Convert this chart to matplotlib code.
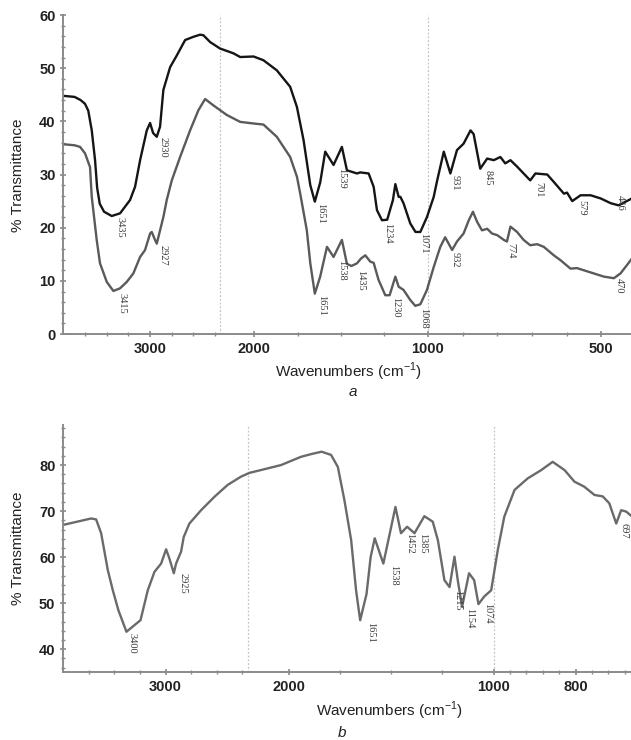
import numpy as np
import matplotlib
matplotlib.use("Agg")
import matplotlib.pyplot as plt
from matplotlib.ticker import FixedLocator, MultipleLocator

plt.rcParams["mathtext.fontset"] = "custom"
plt.rcParams["mathtext.rm"] = "Liberation Sans"

# ---- panel a: two spectra ----
wn_a_top = [4000, 3870, 3800, 3750, 3712, 3672, 3634, 3610, 3580, 3530, 3442, 3346,
            3231, 3173, 3115, 3038, 3000, 2965, 2923, 2885, 2847, 2769, 2692, 2596,
            2501, 2424, 2386, 2307, 2197, 2120, 2081, 2004, 1947, 1870, 1793, 1754,
            1716, 1677, 1651, 1620, 1591, 1543, 1495, 1466, 1408, 1389, 1341, 1312,
            1293, 1264, 1234, 1201, 1187, 1168, 1158, 1140, 1101, 1071, 1043, 1005,
            983, 973, 954, 935, 916, 897, 877, 868, 849, 829, 810, 791, 777, 762,
            743, 705, 690, 656, 637, 608, 599, 584, 560, 531, 502, 473, 450, 430, 412]
t_a_top = [44.8, 44.6, 44.0, 43.3, 42.0, 38.3, 32.7, 27.5, 24.5, 23.0, 22.2, 22.7,
           25.2, 27.7, 32.7, 38.3, 39.7, 37.8, 37.1, 39.0, 45.9, 50.2, 52.4, 55.3,
           55.9, 56.3, 56.2, 54.9, 53.7, 52.8, 52.1, 52.2, 51.5, 49.6, 46.5, 42.7,
           36.5, 28.0, 24.9, 28.5, 34.3, 31.8, 35.2, 30.8, 30.2, 30.4, 30.2, 27.7,
           23.3, 21.4, 21.5, 25.2, 28.2, 25.8, 25.8, 24.6, 20.8, 19.2, 19.2, 22.0,
           25.8, 28.9, 34.3, 30.2, 34.6, 35.8, 38.3, 37.6, 31.1, 33.0, 32.7, 33.3, 32.1, 32.7,
           31.5, 28.9, 30.2, 30.0, 28.6, 26.4, 26.6, 25.0, 26.1, 26.1, 25.5, 24.6, 24.2, 24.9, 25.5]

wn_a_low = [4000, 3870, 3807, 3750, 3692, 3672, 3615, 3577, 3499, 3423, 3346, 3269,
            3193, 3115, 3058, 3000, 2981, 2943, 2923, 2847, 2808, 2750, 2654, 2539,
            2443, 2366, 2270, 2158, 2081, 2004, 1947, 1870, 1793, 1754, 1735, 1697,
            1677, 1651, 1620, 1581, 1543, 1495, 1466, 1440, 1408, 1385, 1360, 1331,
            1312, 1284, 1245, 1220, 1187, 1168, 1140, 1101, 1072, 1043, 1005, 983,
            964, 950, 930, 916, 897, 882, 870, 858, 844, 829, 815, 800, 781, 772,
            762, 743, 724, 705, 685, 666, 637, 618, 589, 570, 551, 522, 493, 464,
            445, 426, 412]
t_a_low = [35.7, 35.5, 35.2, 34.0, 31.4, 25.8, 17.7, 13.3, 9.8, 8.1, 8.6, 9.8,
           11.4, 14.5, 15.8, 18.9, 19.2, 17.7, 17.0, 22.0, 25.2, 28.9, 33.3, 38.3,
           42.1, 44.2, 43.0, 41.2, 39.9, 39.6, 39.4, 37.1, 33.3, 29.6, 26.4, 19.5,
           13.3, 7.6, 10.8, 16.4, 14.5, 17.7, 13.2, 12.8, 13.3, 14.2, 14.8, 13.6,
           13.4, 10.2, 7.3, 7.3, 10.8, 8.9, 8.3, 6.4, 5.3, 5.6, 8.3, 12.6,
           16.4, 18.2, 15.8, 17.4, 18.9, 21.4, 23.0, 21.1, 19.5, 19.8, 18.9, 18.6, 17.7, 17.4,
           20.2, 19.2, 17.7, 16.7, 16.9, 16.4, 14.8, 13.9, 12.3, 12.4, 12.0, 11.4, 10.8, 10.5,
           11.4, 13.0, 14.2]

# peak labels panel a: text, x (cm-1), top of text (%T)
pk_a_text = ["3435", "2930", "1651", "1539", "1234", "1071", "931", "845", "701", "579", "446",
             "3415", "2927", "1651", "1538", "1435", "1230", "1068", "932", "774", "470"]
pk_a_x = [3346, 2850, 1620, 1495, 1233, 1026, 921, 826, 681, 555, 445,
          3323, 2850, 1610, 1495, 1389, 1187, 1026, 921, 762, 450]
pk_a_y = [22.0, 37.0, 24.6, 31.2, 20.9, 19.0, 29.9, 30.8, 28.6, 25.2, 26.1,
          7.7, 16.7, 7.3, 13.9, 12.0, 7.0, 4.9, 15.4, 17.1, 10.5]

# ---- panel b ----
wn_b = [4000, 3824, 3727, 3678, 3629, 3564, 3515, 3461, 3382, 3284, 3245, 3174,
        3109, 3044, 2995, 2963, 2920, 2898, 2849, 2823, 2768, 2654, 2524, 2394,
        2263, 2191, 2118, 2037, 1939, 1888, 1839, 1793, 1760, 1728, 1695, 1671,
        1651, 1620, 1600, 1580, 1538, 1479, 1452, 1422, 1386, 1338, 1297, 1272,
        1240, 1215, 1191, 1175, 1154, 1120, 1095, 1074, 1045, 1012, 990, 974,
        949, 917, 884, 856, 827, 803, 779, 754, 734, 718, 701, 689, 677, 662]
t_b = [67.0, 67.9, 68.4, 68.2, 65.2, 57.2, 52.8, 48.5, 43.8, 45.6, 46.3, 52.8,
       56.8, 58.6, 61.7, 59.7, 56.5, 58.6, 61.2, 64.4, 67.3, 70.2, 73.1, 75.7,
       77.5, 78.3, 79.1, 80.0, 81.8, 82.4, 82.9, 82.2, 79.6, 72.4, 63.7, 52.8,
       46.3, 52.0, 60.0, 64.1, 58.6, 70.9, 65.2, 66.6, 65.2, 68.9, 67.7, 63.7,
       55.0, 53.5, 60.1, 55.0, 49.2, 56.5, 55.0, 49.8, 51.5, 52.8, 61.5, 68.8,
       74.6, 77.1, 78.9, 80.7, 78.9, 76.4, 75.3, 73.5, 73.2, 71.7, 67.3, 70.2, 69.9, 68.8]

pk_b_text = ["3400", "2925", "1651", "1538", "1452", "1385", "1215", "1154", "1074", "697"]
pk_b_x = [3327, 2829, 1602, 1490, 1412, 1345, 1177, 1115, 1027, 683]
pk_b_y = [43.5, 56.5, 45.9, 58.3, 65.2, 65.2, 52.8, 48.9, 50.0, 67.4]


# piecewise axis: 4000-2200 x1, 2200-1000 x2, below 1000 x4
def fwd(w):
    w = np.asarray(w, dtype=float)
    return np.where(w < 1000, 4 * (w - 1000),
                    np.where(w < 2200, 2 * (w - 1000), 2400 + (w - 2200)))


def inv(u):
    u = np.asarray(u, dtype=float)
    return np.where(u < 0, 1000 + u / 4,
                    np.where(u < 2400, 1000 + u / 2, 2200 + (u - 2400)))


SANS = "Liberation Sans"
SERIF = "Liberation Serif"
AXC = "#8a8a8a"


def style(ax, xmax, major, minor, ylim, ymaj, ymin):
    ax.set_xscale("function", functions=(fwd, inv))
    ax.set_xlim(4000, xmax)
    ax.set_ylim(*ylim)
    ax.xaxis.set_major_locator(FixedLocator(major))
    ax.xaxis.set_minor_locator(FixedLocator(minor))
    ax.set_xticklabels([str(m) for m in major])
    ax.yaxis.set_major_locator(MultipleLocator(ymaj))
    ax.yaxis.set_minor_locator(MultipleLocator(ymin))
    for s in ("top", "right"):
        ax.spines[s].set_visible(False)
    for s in ("left", "bottom"):
        ax.spines[s].set_color(AXC)
        ax.spines[s].set_linewidth(1.4)
    ax.tick_params(which="major", direction="inout", length=5, width=1.2, color=AXC,
                   labelsize=10.5, pad=3)
    ax.tick_params(which="minor", direction="inout", length=3, width=1.0, color=AXC)
    for lab in ax.get_xticklabels() + ax.get_yticklabels():
        lab.set_fontfamily(SANS)
        lab.set_fontweight("bold")
        lab.set_color("#222222")
    for xv in (2200, 1000):
        ax.axvline(xv, color="#c4c4c4", ls=(0, (1.5, 1.5)), lw=0.9, zorder=0)


def peaks(ax, texts, xs, ys):
    for t, x, y in zip(texts, xs, ys):
        ax.text(x, y, t, rotation=270, ha="center", va="top", fontsize=7.5,
                family=SERIF, color="#3a3a3a")


fig = plt.figure(figsize=(6.31, 7.40), dpi=100)

ax1 = fig.add_axes([0.1003, 0.5486, 0.899, 0.4311])
style(ax1, 416, [3000, 2000, 1000, 500],
      [3750, 3500, 3250, 2750, 2500, 2250, 1750, 1500, 1250, 900, 800, 700, 600],
      (0, 60), 10, 2)
ax1.plot(wn_a_top, t_a_top, color="#151515", lw=1.7)
ax1.plot(wn_a_low, t_a_low, color="#5a5a5a", lw=1.7)
peaks(ax1, pk_a_text, pk_a_x, pk_a_y)

ax2 = fig.add_axes([0.1, 0.0915, 0.9, 0.3342])
style(ax2, 665, [3000, 2000, 1000, 800],
      [3750, 3500, 3250, 2750, 2500, 2250, 1750, 1500, 1250, 960, 920, 880, 840, 760, 720, 680],
      (35, 88.7), 10, 2)
ax2.plot(wn_b, t_b, color="#6a6a6a", lw=1.7)
peaks(ax2, pk_b_text, pk_b_x, pk_b_y)

# axis titles
fig.text(18 / 631, 1 - 175 / 740, "% Transmittance", rotation=90, ha="center", va="center",
         fontsize=11, family=SANS, color="#222222")
fig.text(18 / 631, 1 - 548 / 740, "% Transmittance", rotation=90, ha="center", va="center",
         fontsize=11, family=SANS, color="#222222")
fig.text(348 / 631, 1 - 372 / 740, "Wavenumbers (cm$^{-1}$)", ha="center", va="center",
         fontsize=11, family=SANS, color="#222222")
fig.text(389 / 631, 1 - 711 / 740, "Wavenumbers (cm$^{-1}$)", ha="center", va="center",
         fontsize=11, family=SANS, color="#222222")
fig.text(353 / 631, 1 - 392 / 740, "a", ha="center", va="center", fontsize=11,
         style="italic", family=SANS, color="#222222")
fig.text(342 / 631, 1 - 733 / 740, "b", ha="center", va="center", fontsize=11,
         style="italic", family=SANS, color="#222222")

fig.savefig("out.png", dpi=100)
plt.close(fig)
